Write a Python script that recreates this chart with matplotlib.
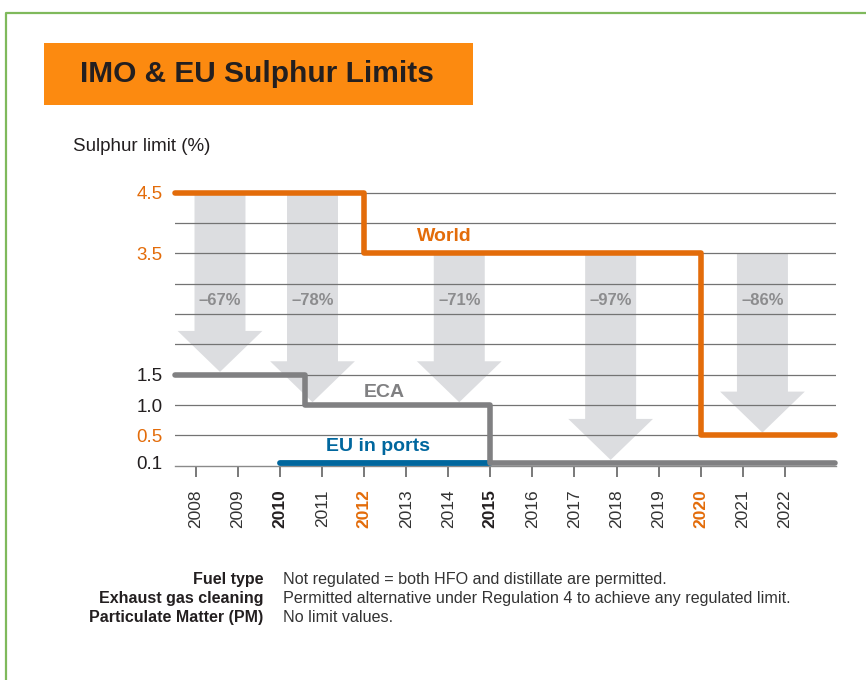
import numpy as np
import matplotlib
matplotlib.use("Agg")
import matplotlib.pyplot as plt
from matplotlib.patches import Rectangle
from matplotlib.lines import Line2D

plt.rcParams['font.family'] = ['Liberation Sans', 'DejaVu Sans']

# данные: ступенчатые лимиты серы (%)
world_years = [2007.5, 2012, 2020]
world_vals = [4.5, 3.5, 0.5]
eca_years = [2007.5, 2010.6, 2015]
eca_vals = [1.5, 1.0, 0.1]
eu_years = [2010]
eu_vals = [0.1]
eu_end = 2015
x_end = 2023.2

years = list(range(2008, 2023))
grid_vals = [0.5, 1.0, 1.5, 2.0, 2.5, 3.0, 3.5, 4.0, 4.5]
ytick_vals = [0.1, 0.5, 1.0, 1.5, 3.5, 4.5]
ytick_labels = ['0.1', '0.5', '1.0', '1.5', '3.5', '4.5']

# стрелки снижения: позиция, откуда, куда, подпись
arrow_x = [2008.57, 2010.77, 2014.26, 2017.86, 2021.47]
arrow_from = [4.5, 4.5, 3.5, 3.5, 3.5]
arrow_to = [1.5, 1.0, 1.0, 0.1, 0.5]
arrow_labels = ['\u201367%', '\u201378%', '\u201371%', '\u201397%', '\u201386%']

footer_keys = ['Fuel type', 'Exhaust gas cleaning', 'Particulate Matter (PM)']
footer_vals = ['Not regulated = both HFO and distillate are permitted.',
               'Permitted alternative under Regulation 4 to achieve any regulated limit.',
               'No limit values.']

ORANGE = '#e36c0a'
GRAY = '#808082'
BLUE = '#00679e'
DARK = '#231f20'

fig = plt.figure(figsize=(8.66, 6.8), dpi=100)
fig.patch.set_facecolor('white')

# зелёная рамка
fig.add_artist(Line2D([0.0075, 0.0075, 1.01], [-0.01, 0.9813, 0.9813],
                      color='#7fb95c', lw=1.6, transform=fig.transFigure))

# заголовок
fig.add_artist(Rectangle((0.0508, 0.846), 0.495, 0.0907, transform=fig.transFigure,
                         facecolor='#fc8a10', edgecolor='none'))
fig.text(0.0924, 0.8912, 'IMO & EU Sulphur Limits', fontsize=21.5, fontweight='bold',
         color=DARK, va='center', ha='left')
fig.text(0.0839, 0.7843, 'Sulphur limit (%)', fontsize=13.5, color=DARK, va='center', ha='left')

ax = fig.add_axes([0.20208, 0.31515, 0.7633, 0.41044])

# нелинейная шкала: 0.1 прижато к базовой линии
yp_data = [0.0, 0.1, 0.5, 5.0]
yp_pos = [0.0, 0.05, 0.5, 5.0]
ax.set_yscale('function', functions=(lambda v: np.interp(v, yp_data, yp_pos),
                                     lambda p: np.interp(p, yp_pos, yp_data)))
ax.set_xlim(2007.5, 2023.22)
ax.set_ylim(0, 4.6)

for g in grid_vals:
    ax.axhline(g, color='#737373', lw=0.9, zorder=2)

for xc, y0, y1, lab in zip(arrow_x, arrow_from, arrow_to, arrow_labels):
    ax.annotate('', xy=(xc, y1), xytext=(xc, y0), zorder=1,
                arrowprops=dict(arrowstyle='simple,head_length=29.5,head_width=61,tail_width=36.7',
                                fc='#dcdde0', ec='none', shrinkA=0, shrinkB=2,
                                mutation_scale=1))
    ax.text(xc, 2.73, lab, ha='center', va='center', fontsize=12, fontweight='bold',
            color='#8c8c8e', zorder=4)

def step_line(xs, vals, end, **kw):
    ax.step(list(xs) + [end], list(vals) + [vals[-1]], where='post',
            solid_capstyle='round', solid_joinstyle='round', clip_on=False, **kw)

step_line(eu_years, eu_vals, eu_end, color=BLUE, lw=4.2, zorder=3)
step_line(eca_years, eca_vals, x_end, color=GRAY, lw=4.0, zorder=4)
step_line(world_years, world_vals, x_end, color=ORANGE, lw=4.0, zorder=5)

ax.text(2013.9, 3.78, 'World', color=ORANGE, fontsize=14, fontweight='bold',
        ha='center', va='center', zorder=6)
ax.text(2012.48, 1.21, 'ECA', color=GRAY, fontsize=14, fontweight='bold',
        ha='center', va='center', zorder=6)
ax.text(2012.32, 0.33, 'EU in ports', color=BLUE, fontsize=14, fontweight='bold',
        ha='center', va='center', zorder=6)

for s in ['top', 'right', 'left']:
    ax.spines[s].set_visible(False)
ax.spines['bottom'].set_color('#8a8a8a')
ax.spines['bottom'].set_linewidth(1.0)
ax.spines['bottom'].set_zorder(2)

ax.set_yticks(ytick_vals)
ax.set_yticklabels(ytick_labels)
ax.tick_params(axis='y', length=0, pad=9, labelsize=13.5)
for t, v in zip(ax.get_yticklabels(), ytick_vals):
    t.set_color(ORANGE if v in (4.5, 3.5, 0.5) else DARK)

ax.set_xticks(years)
ax.set_xticklabels([str(y) for y in years], rotation=90, va='top')
ax.tick_params(axis='x', length=8, width=1.1, color='#555555', pad=9, labelsize=12.5)
for t, y in zip(ax.get_xticklabels(), years):
    if y in (2010, 2015):
        t.set_fontweight('bold')
        t.set_color(DARK)
    elif y in (2012, 2020):
        t.set_fontweight('bold')
        t.set_color(ORANGE)
    else:
        t.set_color('#333333')

# пояснения под графиком
for i, (k, v) in enumerate(zip(footer_keys, footer_vals)):
    yy = 0.1485 - i * 0.0284
    fig.text(0.304, yy, k, ha='right', va='center', fontsize=11.5, fontweight='bold', color=DARK)
    fig.text(0.3264, yy, v, ha='left', va='center', fontsize=11.6, color='#333333')

fig.savefig('out.png', dpi=100, facecolor='white')
